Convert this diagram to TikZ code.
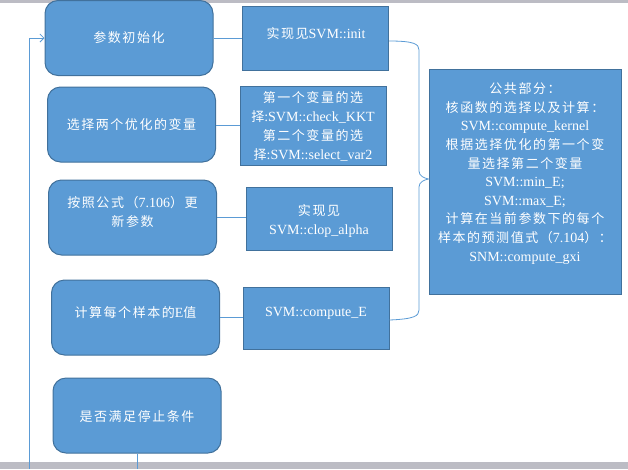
\documentclass[tikz,border=0pt]{standalone}
\usepackage{fontspec}
\setmainfont{Liberation Serif}
\newfontfamily\cjkfont[LetterSpace=12]{Noto Sans CJK SC}
\newcommand\zhs[1]{{\fontsize{13}{19}\cjkfont #1}}
\usetikzlibrary{arrows.meta}
\definecolor{boxfill}{HTML}{5B9BD5}
\definecolor{boxline}{HTML}{41719C}
\definecolor{band}{HTML}{BCBCC4}
\begin{document}
\begin{tikzpicture}[x=1pt,y=-1pt,
  rbox/.style={draw=boxline, fill=boxfill, line width=1pt, rounded corners=13pt,
    minimum width=168pt, minimum height=75pt, inner sep=0pt},
  sbox/.style={draw=boxline, fill=boxfill, line width=1pt, minimum width=146pt, inner sep=0pt},
  txt/.style={text=white, align=center, inner sep=0pt, font=\fontsize{14}{19}\selectfont},
  link/.style={draw=boxfill, line width=0.8pt}]
\useasboundingbox (0,0) rectangle (628,469);
\fill[band] (0,0) rectangle (628,3);
\fill[band] (0,462) rectangle (628,469);

% left rounded boxes
\node[rbox] (L1) at (129,38) {};
\node[rbox] (L2) at (131.5,124.5) {};
\node[rbox] (L3) at (132.5,217.5) {};
\node[rbox] (L4) at (135.5,317.5) {};
\node[rbox] (L5) at (137,415.5) {};

% right boxes
\node[sbox, minimum height=64pt] (R1) at (315.5,38) {};
\node[sbox, minimum height=79pt] (R2) at (313,125.5) {};
\node[sbox, minimum height=63pt] (R3) at (319,218.5) {};
\node[sbox, minimum height=62pt] (R4) at (316,318) {};
\node[sbox, minimum width=192pt, minimum height=225pt] (Big) at (525,181.5) {};

% texts
\node[txt] (tL1) at (129,38) {\zhs{参数初始化}};
\node[txt] (tL2) at (131.5,125) {\zhs{选择两个优化的变量}};
\node[txt] (tL3) at (132.5,212) {\zhs{按照公式（}7.106\zhs{）更}\\\zhs{新参数}};
\node[txt] (tL4) at (135.5,313) {\zhs{计算每个样本的}E\zhs{值}};
\node[txt] (tL5) at (137,417) {\zhs{是否满足停止条件}};

\node[txt] (tR1) at (316,34) {\zhs{实现见}SVM::init};
\node[txt] (tR2) at (313,126.5) {\zhs{第一个变量的选}\\\zhs{择}:SVM::check\_KKT\\\zhs{第二个变量的选}\\\zhs{择}:SVM::select\_var2};
\node[txt] (tR3) at (319,220.5) {\zhs{实现见}\\SVM::clop\_alpha};
\node[txt] (tR4) at (316,313) {SVM::compute\_E};
\node[txt, font=\fontsize{14}{18.6}\selectfont] (tBig) at (525,173.5) {\zhs{公共部分：}\\\zhs{核函数的选择以及计算：}\\SVM::compute\_kernel\\\zhs{根据选择优化的第一个变}\\\zhs{量选择第二个变量}\\SVM::min\_E;\\SVM::max\_E;\\\zhs{计算在当前参数下的每个}\\\zhs{样本的预测值式（}7.104\zhs{）：}\\SNM::compute\_gxi};

% connectors
\draw[link] (L1.east) -- (L1.east -| R1.west);
\draw[link] (L2.east |- 0,125) -- (R2.west |- 0,125);
\draw[link] (L3.east) -- (L3.east -| R3.west);
\draw[link] (L4.east) -- (L4.east -| R4.west);

% brace
\coordinate (tip) at (Big.west |- 0,179);
\draw[link] (R1.east |- 0,41) .. controls (414,41) and (419,44) .. (419,50)
  -- (419,171) .. controls (419,176) and (424,178) .. (tip)
  .. controls (424,180) and (419,182) .. (419,187)
  -- (419,310) .. controls (419,316) and (414,319) .. (R4.east |- 0,320);

% loop
\coordinate (lb) at (29,469);
\coordinate (l5b) at (137,469);
\draw[link, -{Straight Barb[length=4pt,width=8pt]}] (lb) |- (L1.west);
\draw[link] (L5.south) -- (L5.south |- l5b);
\end{tikzpicture}
\end{document}
